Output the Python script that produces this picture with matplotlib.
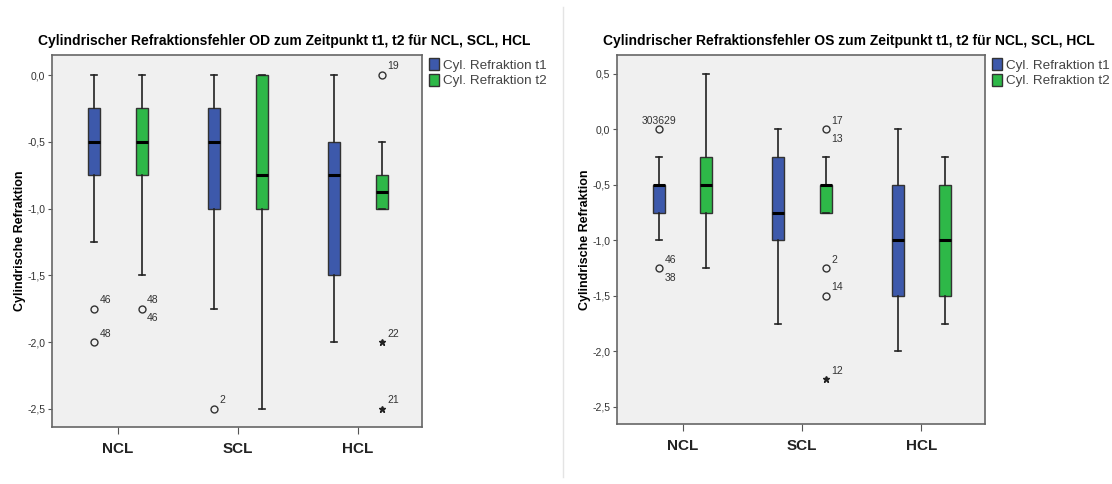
import matplotlib
matplotlib.use("Agg")
import matplotlib.pyplot as plt
from matplotlib.patches import Patch
from matplotlib.lines import Line2D

plt.rcParams["font.family"] = ["Liberation Sans", "DejaVu Sans"]

groups = ["NCL", "SCL", "HCL"]
series = ["Cyl. Refraktion t1", "Cyl. Refraktion t2"]
colors = ["#3d59ab", "#2eb848"]

# box stats per panel: [t1 per group, t2 per group] -> (whislo, q1, med, q3, whishi)
od_stats = [
    [(-1.25, -0.75, -0.5, -0.25, 0.0), (-1.75, -1.0, -0.5, -0.25, 0.0), (-2.0, -1.5, -0.75, -0.5, 0.0)],
    [(-1.5, -0.75, -0.5, -0.25, 0.0), (-2.5, -1.0, -0.75, 0.0, 0.0), (-1.0, -1.0, -0.875, -0.75, -0.5)],
]
os_stats = [
    [(-1.0, -0.75, -0.5, -0.5, -0.25), (-1.75, -1.0, -0.75, -0.25, 0.0), (-2.0, -1.5, -1.0, -0.5, 0.0)],
    [(-1.25, -0.75, -0.5, -0.25, 0.5), (-0.75, -0.75, -0.5, -0.5, -0.25), (-1.75, -1.5, -1.0, -0.5, -0.25)],
]

# outliers: (series index, group index, value, marker, labels)
od_out = [
    (0, 0, -1.75, "o", ["46"]), (0, 0, -2.0, "o", ["48"]),
    (1, 0, -1.75, "o", ["48", "46"]),
    (0, 1, -2.5, "o", ["2"]),
    (1, 2, 0.0, "o", ["19"]), (1, 2, -2.0, "*", ["22"]), (1, 2, -2.5, "*", ["21"]),
]
os_out = [
    (0, 0, 0.0, "o", ["303629"]), (0, 0, -1.25, "o", ["46", "38"]),
    (1, 1, 0.0, "o", ["17", "13"]), (1, 1, -1.25, "o", ["2"]),
    (1, 1, -1.5, "o", ["14"]), (1, 1, -2.25, "*", ["12"]),
]

fig = plt.figure(figsize=(11.12, 4.84), dpi=100)
fig.add_artist(Line2D([0.506, 0.506], [0.015, 0.985], color="#e4e4e4", lw=1))


def panel(rect, stats, outliers, title, title_x, ylim, yticks, label_x):
    ax = fig.add_axes(rect)
    ax.set_facecolor("#f0f0f0")
    for s in range(2):
        bx = []
        for lo, q1, med, q3, hi in stats[s]:
            bx.append(dict(whislo=lo, q1=q1, med=med, q3=q3, whishi=hi, fliers=[]))
        pos = [g + (-0.197 if s == 0 else 0.198) for g in range(3)]
        ax.bxp(bx, positions=pos, widths=0.1, patch_artist=True, showfliers=False,
               boxprops=dict(facecolor=colors[s], edgecolor="#333333", lw=1),
               medianprops=dict(color="black", lw=2.2),
               whiskerprops=dict(color="#222222", lw=1.2),
               capprops=dict(color="#222222", lw=1.2), capwidths=0.05)
    for s, g, v, m, labels in outliers:
        x = g + (-0.197 if s == 0 else 0.198)
        if m == "o":
            ax.plot(x, v, "o", mfc="none", mec="#333333", ms=5, mew=1)
        else:
            ax.plot(x, v, "*", color="#222222", ms=5)
        if len(labels[0]) > 3:
            ax.annotate(labels[0], (x, v), xytext=(0, 4), textcoords="offset points",
                        fontsize=7.5, color="#333333", ha="center")
            continue
        ax.annotate(labels[0], (x, v), xytext=(4, 4), textcoords="offset points",
                    fontsize=7.5, color="#333333")
        if len(labels) > 1:
            ax.annotate(labels[1], (x, v), xytext=(4, -9), textcoords="offset points",
                        fontsize=7.5, color="#333333")
    ax.set_xlim(-0.548, 2.533)
    ax.set_ylim(*ylim)
    ax.set_yticks(yticks)
    ax.set_yticklabels([f"{t:.1f}".replace(".", ",") for t in yticks], fontsize=7.5, color="#333333")
    ax.set_xticks(range(3))
    ax.set_xticklabels(groups, fontsize=11, fontweight="bold", color="#222222")
    ax.tick_params(axis="x", length=5, color="#555555", pad=6)
    ax.tick_params(axis="y", length=3, color="#555555", pad=2)
    for sp in ax.spines.values():
        sp.set_color("#666666")
        sp.set_linewidth(1.2)
    ax.set_ylabel("Cylindrische Refraktion", fontsize=9, fontweight="bold")
    ax.yaxis.set_label_coords(label_x, 0.5)
    fig.text(title_x, 1 - 41 / 484, title, fontsize=10, fontweight="bold",
             ha="center", va="center")
    handles = [Patch(facecolor=colors[i], edgecolor="#333333", label=series[i]) for i in range(2)]
    ax.legend(handles=handles, loc="upper left", bbox_to_anchor=(1.0, 1.01), frameon=False,
              fontsize=9.7, handlelength=0.75, handleheight=1.0, handletextpad=0.3,
              labelspacing=0.15, borderaxespad=0.1, labelcolor="#444444")
    return ax


panel([0.0468, 0.1178, 0.3327, 0.7686], od_stats, od_out,
      "Cylindrischer Refraktionsfehler OD zum Zeitpunkt t1, t2 für NCL, SCL, HCL", 284 / 1112,
      (-2.635, 0.15), [0.0, -0.5, -1.0, -1.5, -2.0, -2.5], -0.07)
panel([0.5549, 0.124, 0.331, 0.7624], os_stats, os_out,
      "Cylindrischer Refraktionsfehler OS zum Zeitpunkt t1, t2 für NCL, SCL, HCL", 849 / 1112,
      (-2.653, 0.671), [0.5, 0.0, -0.5, -1.0, -1.5, -2.0, -2.5], -0.071)

fig.savefig("out.png", dpi=100)
